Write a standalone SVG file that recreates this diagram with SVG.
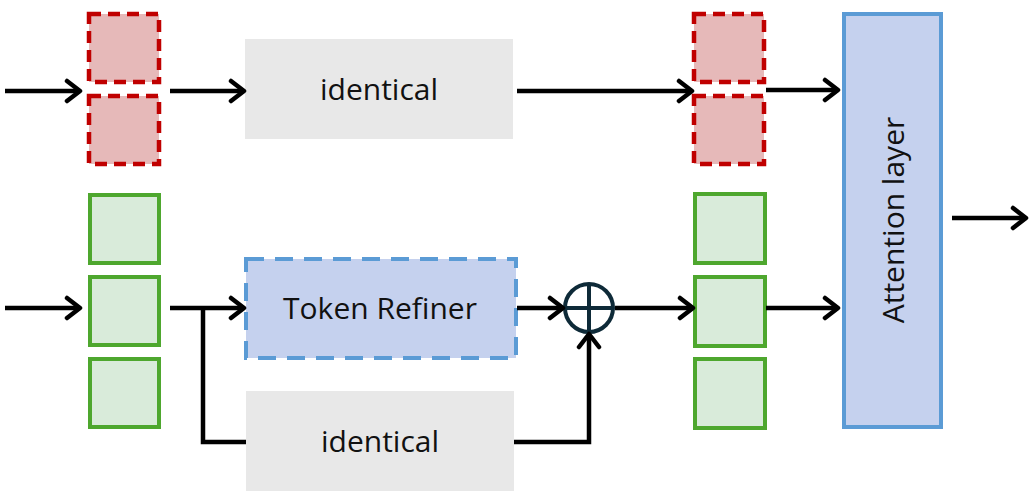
<svg xmlns="http://www.w3.org/2000/svg" width="1030" height="499" viewBox="0 0 1030 499">
<style>
.red{fill:#E6B9B9;stroke:#C00000;stroke-width:4.5;stroke-dasharray:12,7}
.green{fill:#D9EBDA;stroke:#4EA72E;stroke-width:4}
.gray{fill:#E8E8E8}
.blue{fill:#C5D1EE;stroke:#5B9BD5;stroke-width:4}
.bluedash{fill:#C5D1EE;stroke:#5B9BD5;stroke-width:4;stroke-dasharray:18,11}
.lbl{font-family:"Open Sans","Liberation Sans",sans-serif;font-size:30px;fill:#111}
.c{fill:none;stroke:#000;stroke-width:4.5}
</style>
<defs>
<marker id="ah" markerUnits="userSpaceOnUse" markerWidth="22" markerHeight="26" refX="16" refY="13" orient="auto">
<path d="M3,3 L16,13 L3,23" fill="none" stroke="#000" stroke-width="4.5" stroke-linecap="round" stroke-linejoin="round"/>
</marker>
</defs>
<g id="red-left-1"><rect class="red" x="89" y="14" width="70" height="68"/></g>
<g id="red-left-2"><rect class="red" x="89" y="96" width="70" height="68"/></g>
<g id="green-left-1"><rect class="green" x="90" y="195" width="69" height="68"/></g>
<g id="green-left-2"><rect class="green" x="90" y="277" width="69" height="68"/></g>
<g id="green-left-3"><rect class="green" x="90" y="359" width="69" height="68"/></g>
<g id="identical-top"><rect class="gray" x="245" y="39" width="268" height="100"/><text class="lbl" x="379" y="100" text-anchor="middle">identical</text></g>
<g id="token-refiner"><rect class="bluedash" x="246" y="259" width="270" height="99"/><text class="lbl" x="380" y="319" text-anchor="middle">Token Refiner</text></g>
<g id="identical-bottom"><rect class="gray" x="246" y="391" width="268" height="100"/><text class="lbl" x="380" y="452" text-anchor="middle">identical</text></g>
<g id="sum"><circle cx="589" cy="308" r="24" fill="none" stroke="#0E2A38" stroke-width="4"/><path d="M565,308 H613 M589,284 V332" stroke="#0E2A38" stroke-width="4"/></g>
<g id="red-right-1"><rect class="red" x="694" y="14" width="70" height="68"/></g>
<g id="red-right-2"><rect class="red" x="694" y="96" width="70" height="68"/></g>
<g id="green-right-1"><rect class="green" x="695" y="194" width="70" height="69"/></g>
<g id="green-right-2"><rect class="green" x="695" y="277" width="70" height="69"/></g>
<g id="green-right-3"><rect class="green" x="695" y="359" width="70" height="69"/></g>
<g id="attention"><rect class="blue" x="844" y="14" width="97" height="413"/><text class="lbl" transform="translate(904,220) rotate(-90)" text-anchor="middle">Attention layer</text></g>
<g id="connectors">
<path class="c" d="M5,91 H80" marker-end="url(#ah)"/>
<path class="c" d="M170,91 H244" marker-end="url(#ah)"/>
<path class="c" d="M517,91 H692" marker-end="url(#ah)"/>
<path class="c" d="M766,90 H838" marker-end="url(#ah)"/>
<path class="c" d="M5,308 H80" marker-end="url(#ah)"/>
<path class="c" d="M170,308 H244" marker-end="url(#ah)"/>
<path class="c" d="M203,308 V442 H246"/>
<path class="c" d="M517,308 H563" marker-end="url(#ah)"/>
<path class="c" d="M514,442 H589 V334" marker-end="url(#ah)"/>
<path class="c" d="M615,308 H693" marker-end="url(#ah)"/>
<path class="c" d="M766,308 H838" marker-end="url(#ah)"/>
<path class="c" d="M952,218 H1026" marker-end="url(#ah)"/>
</g>
</svg>
